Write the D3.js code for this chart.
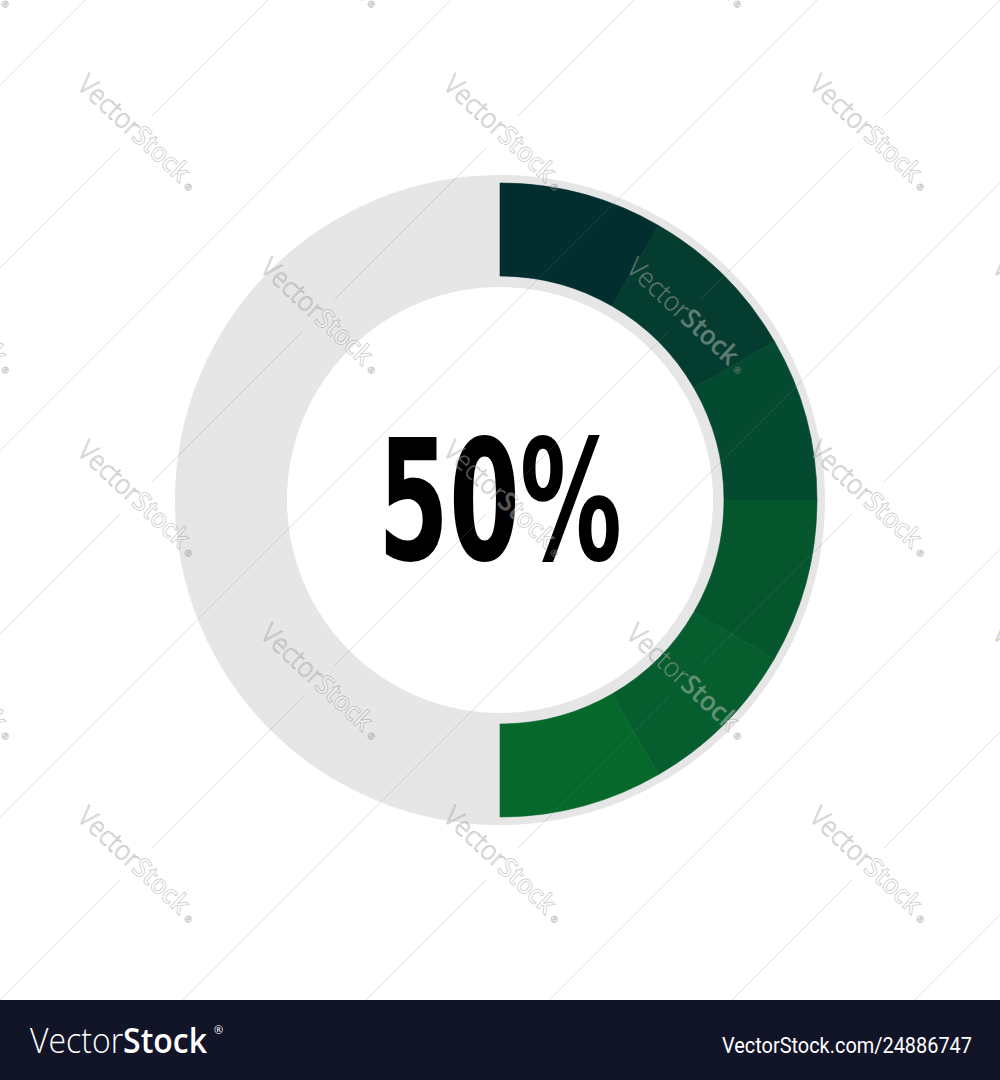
<!DOCTYPE html>
<html>
<head>
<meta charset="utf-8">
<script src="https://cdn.jsdelivr.net/npm/d3@7"></script>
<style>
  html, body { margin: 0; padding: 0; background: #ffffff; }
  svg { display: block; }
</style>
</head>
<body>
<script>
// ---- data ----
const percentValue = 50;                       // the value shown
const percentLabel = "50%";
const filledSegments = [1, 1, 1, 1, 1, 1];      // equal slices of the filled part
const segmentColors = ["#022e30", "#043c2f", "#044a30", "#05552d", "#065e2e", "#06692b"];
const trackColor = "#e6e6e6";
const brandLeft = ["Vector", "Stock"];
const brandRight = "VectorStock.com/24886747";

// ---- layout ----
const W = 1000, H = 1080;
const cx = 500, cy = 500;
const trackOuter = 325, trackInner = 213;
const ringOuter = 317, ringInner = 224;

const svg = d3.select("body").append("svg").attr("width", W).attr("height", H);
svg.append("rect").attr("width", W).attr("height", H).attr("fill", "#ffffff");

const g = svg.append("g").attr("transform", `translate(${cx},${cy})`);

// scale: value (0-100) -> angle
const angle = d3.scaleLinear().domain([0, 100]).range([0, 2 * Math.PI]);

// track (full ring)
g.append("path")
  .attr("d", d3.arc().innerRadius(trackInner).outerRadius(trackOuter).startAngle(0).endAngle(2 * Math.PI)())
  .attr("fill", trackColor);

// filled segments
const pie = d3.pie().sort(null).value(d => d)
  .startAngle(angle(0)).endAngle(angle(percentValue));
const arc = d3.arc().innerRadius(ringInner).outerRadius(ringOuter);
g.selectAll("path.seg")
  .data(pie(filledSegments))
  .join("path")
  .attr("class", "seg")
  .attr("d", arc)
  .attr("fill", (d, i) => segmentColors[i])
  .attr("stroke", (d, i) => segmentColors[i])
  .attr("stroke-width", 0.6);

// centre label
g.append("text")
  .attr("x", 0).attr("y", 60)
  .attr("text-anchor", "middle")
  .attr("font-family", "'Liberation Sans Narrow', 'DejaVu Sans Condensed', 'Liberation Sans', sans-serif")
  .attr("font-weight", "bold")
  .attr("font-size", 168)
  .attr("textLength", 244)
  .attr("lengthAdjust", "spacingAndGlyphs")
  .attr("fill", "#000000")
  .text(percentLabel);

// ---- watermark layer ----
const marks = [];
for (let r = -1; r <= 4; r++) {
  const y = 132 + 183 * r;
  const x0 = (Math.abs(r) % 2 === 1) ? -47 : 136;
  for (let c = 0; c < 4; c++) {
    const x = x0 + 366 * c;
    if (x < 1100) marks.push([x, y]);
  }
}
const rot = 43;

const defs = svg.append("defs");
const mask = defs.append("mask").attr("id", "gapmask")
  .attr("maskUnits", "userSpaceOnUse").attr("x", 0).attr("y", 0).attr("width", W).attr("height", 1000);
mask.append("rect").attr("width", W).attr("height", 1000).attr("fill", "white");
mask.selectAll("rect.m").data(marks).join("rect").attr("class", "m")
  .attr("x", -82).attr("y", -22).attr("width", 164).attr("height", 44)
  .attr("transform", d => `translate(${d[0]},${d[1]}) rotate(${rot})`)
  .attr("fill", "black");

defs.append("clipPath").attr("id", "imgclip")
  .append("rect").attr("width", W).attr("height", 1000);

const wm = svg.append("g").attr("clip-path", "url(#imgclip)");
const lineSums = d3.range(0, 11).map(k => 85 + 183 * k);
wm.append("g").attr("mask", "url(#gapmask)")
  .selectAll("line").data(lineSums).join("line")
  .attr("x1", d => d - 1000 > 0 ? d - 1000 : 0)
  .attr("y1", d => d - 1000 > 0 ? 1000 : d)
  .attr("x2", d => d > 1000 ? 1000 : d)
  .attr("y2", d => d > 1000 ? d - 1000 : 0)
  .attr("stroke", "rgba(130,130,130,0.32)")
  .attr("stroke-width", 0.8);

const wt = wm.selectAll("g.wm").data(marks).join("g").attr("class", "wm")
  .attr("transform", d => `translate(${d[0]},${d[1]}) rotate(${rot})`);
const t = wt.append("text")
  .attr("x", -4).attr("y", 8)
  .attr("text-anchor", "middle")
  .attr("font-family", "'Open Sans', 'Noto Sans', sans-serif")
  .attr("font-size", 27)
  .attr("textLength", 142)
  .attr("lengthAdjust", "spacingAndGlyphs")
  .attr("fill", "rgba(255,255,255,0.35)")
  .attr("stroke", "rgba(100,100,100,0.38)")
  .attr("stroke-width", 0.8);
t.append("tspan").attr("font-weight", 300).text("Vector");
t.append("tspan").attr("font-weight", 600).text("Stock");
wt.append("text")
  .attr("x", 72).attr("y", 8)
  .attr("font-family", "'Open Sans', sans-serif")
  .attr("font-size", 9)
  .attr("fill", "rgba(255,255,255,0.35)")
  .attr("stroke", "rgba(100,100,100,0.38)")
  .attr("stroke-width", 0.5)
  .text("®");

// ---- bottom bar ----
svg.append("rect").attr("x", 0).attr("y", 1000).attr("width", W).attr("height", 80).attr("fill", "#121427");
const bl = svg.append("text")
  .attr("x", 30).attr("y", 1053)
  .attr("font-family", "'Open Sans', 'Noto Sans', sans-serif")
  .attr("font-size", 35)
  .attr("textLength", 177)
  .attr("lengthAdjust", "spacingAndGlyphs")
  .attr("fill", "#ffffff");
bl.append("tspan").attr("font-weight", 300).text(brandLeft[0]);
bl.append("tspan").attr("font-weight", 600).text(brandLeft[1]);
svg.append("text")
  .attr("x", 214).attr("y", 1034)
  .attr("font-family", "'Open Sans', sans-serif")
  .attr("font-size", 11)
  .attr("fill", "#ffffff")
  .text("®");
svg.append("text")
  .attr("x", 972).attr("y", 1053)
  .attr("text-anchor", "end")
  .attr("font-family", "'Roboto', 'Open Sans', sans-serif")
  .attr("font-size", 22)
  .attr("textLength", 250)
  .attr("lengthAdjust", "spacingAndGlyphs")
  .attr("fill", "#ffffff")
  .text(brandRight);
</script>
</body>
</html>
